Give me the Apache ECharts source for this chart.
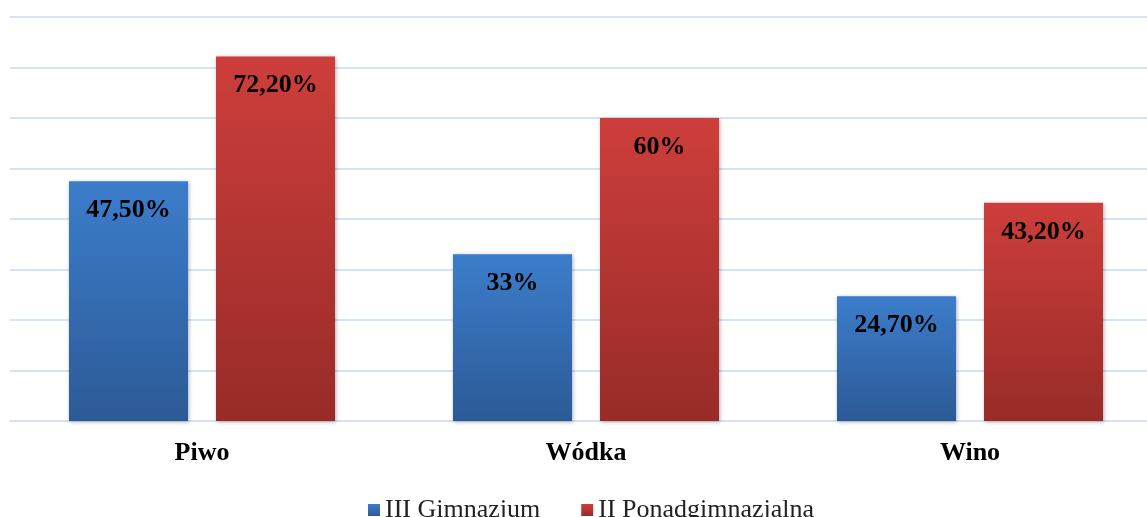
<!DOCTYPE html>
<html>
<head>
<meta charset="utf-8">
<script src="https://cdn.jsdelivr.net/npm/echarts@6/dist/echarts.min.js"></script>
<style>
  html, body { margin: 0; padding: 0; background: #fff; }
  #myChart { width: 1147px; height: 517px; }
</style>
</head>
<body>
<div id="myChart"></div>
<script>
var categories = ['Piwo', 'Wódka', 'Wino'];
var seriesNames = ['III Gimnazjum', 'II Ponadgimnazjalna'];
var gimnazjum = [47.5, 33, 24.7];
var ponadgimnazjalna = [72.2, 60, 43.2];

// etykiety w formacie "47,50%" / "33%"
function fmt(v) {
    if (Math.round(v) === v) return v + '%';
    return v.toFixed(2).replace('.', ',') + '%';
}

function grad(top, bottom) {
    return new echarts.graphic.LinearGradient(0, 0, 0, 1, [
        { offset: 0, color: top },
        { offset: 1, color: bottom }
    ]);
}

var serif = '"Liberation Serif", "DejaVu Serif", serif';

var myChart = echarts.init(document.getElementById('myChart'));
var labelOpt = {
    show: true,
    position: 'insideTop',
    distance: 16,
    color: '#000',
    fontFamily: serif,
    fontWeight: 'bold',
    fontSize: 26,
    formatter: function (p) { return fmt(p.value); }
};
var option = {
    animation: false,
    grid: { left: 10, right: -15, top: 17, bottom: 96, outerBoundsMode: 'none' },
    legend: {
        bottom: -11,
        left: 363,
        itemWidth: 12,
        itemHeight: 12,
        itemGap: 41,
        icon: 'rect',
        textStyle: { fontFamily: serif, fontSize: 26, color: '#222' },
        data: seriesNames
    },
    xAxis: {
        type: 'category',
        data: categories,
        axisTick: { show: false },
        axisLine: { show: true, lineStyle: { color: '#D6E3F3', width: 2 } },
        axisLabel: {
            margin: 19,
            color: '#000',
            fontFamily: serif,
            fontWeight: 'bold',
            fontSize: 26
        }
    },
    yAxis: {
        type: 'value',
        min: 0,
        max: 80,
        interval: 10,
        axisLabel: { show: false },
        axisLine: { show: false },
        axisTick: { show: false },
        splitLine: { show: true, lineStyle: { color: '#D6E3F3', width: 2 } }
    },
    series: [
        {
            name: seriesNames[0],
            type: 'bar',
            data: gimnazjum,
            barWidth: '31%',
            barGap: '23.5%',
            label: labelOpt,
            itemStyle: {
                color: grad('#3C7DCB', '#2C5A96'),
                shadowBlur: 4,
                shadowColor: 'rgba(0,0,0,0.3)',
                shadowOffsetX: 1,
                shadowOffsetY: 1
            }
        },
        {
            name: seriesNames[1],
            type: 'bar',
            data: ponadgimnazjalna,
            barWidth: '31%',
            label: labelOpt,
            itemStyle: {
                color: grad('#CD3E3B', '#982B29'),
                shadowBlur: 4,
                shadowColor: 'rgba(0,0,0,0.3)',
                shadowOffsetX: 1,
                shadowOffsetY: 1
            }
        }
    ]
};
myChart.setOption(option);
</script>
</body>
</html>
